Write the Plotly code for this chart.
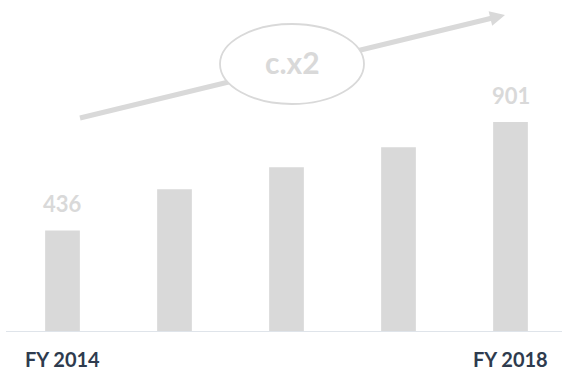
import numpy as np
import plotly.graph_objects as go

# Revenue by fiscal year
years = ["FY 2014", "FY 2015", "FY 2016", "FY 2017", "FY 2018"]
values = [436, 613, 707, 793, 901]
shown_labels = {0: "436", 4: "901"}
axis_labels = {0: "FY 2014", 4: "FY 2018"}
growth_text = "c.x2"

W, H = 562, 372
BAR = "#d9d9d9"
DARK = "#2e3b4e"
FONT = "Lato"

def px(x):
    return x / W

def py(y):
    return 1 - y / H

x_idx = list(range(len(years)))

fig = go.Figure()
fig.add_trace(go.Bar(
    x=x_idx, y=values, marker_color=BAR, marker_line_width=0,
    width=0.31, hoverinfo="skip",
))

annotations = []
for i, txt in shown_labels.items():
    annotations.append(dict(
        x=i, y=values[i], xref="x", yref="y", text=f"<b>{txt}</b>",
        showarrow=False, xanchor="center", yanchor="bottom", yshift=11,
        font=dict(family=FONT, size=22, color=BAR),
    ))
for i, txt in axis_labels.items():
    annotations.append(dict(
        x=i, y=0, xref="x", yref="y", text=f"<b>{txt}</b>",
        showarrow=False, xanchor="center", yanchor="middle", yshift=-27,
        borderpad=0,
        font=dict(family=FONT, size=20, color=DARK),
    ))

# Growth arrow: shaft, ellipse badge, and triangular head
tail = np.array([80.0, 118.0])
tip = np.array([505.0, 15.0])
d = (tip - tail) / np.linalg.norm(tip - tail)
perp = np.array([-d[1], d[0]])
head_len, head_half = 15.0, 7.5
base = tip - head_len * d
c1 = base + head_half * perp
c2 = base - head_half * perp
shaft_end = base + 1.0 * d

ecx, ecy, erx, ery = 292.0, 64.0, 72.0, 40.0

shapes = [
    dict(type="line", xref="paper", yref="y", x0=px(6), x1=1, y0=0, y1=0,
         line=dict(color="#dfe4ea", width=2), layer="above"),
    dict(type="line", xref="paper", yref="paper",
         x0=px(tail[0]), y0=py(tail[1]), x1=px(shaft_end[0]), y1=py(shaft_end[1]),
         line=dict(color=BAR, width=5)),
    dict(type="path", xref="paper", yref="paper",
         path=(f"M {px(tip[0])} {py(tip[1])} L {px(c1[0])} {py(c1[1])} "
               f"L {px(c2[0])} {py(c2[1])} Z"),
         fillcolor=BAR, line=dict(width=0)),
    dict(type="circle", xref="paper", yref="paper",
         x0=px(ecx - erx), x1=px(ecx + erx), y0=py(ecy + ery), y1=py(ecy - ery),
         fillcolor="white", line=dict(color=BAR, width=1.8)),
]

annotations.append(dict(
    x=px(ecx), y=py(ecy - 2), xref="paper", yref="paper",
    text=f"<b>{growth_text}</b>", showarrow=False,
    xanchor="center", yanchor="middle",
    font=dict(family=FONT, size=30, color=BAR),
))

scale = 901 / 210.0
fig.update_layout(
    width=W, height=H,
    margin=dict(l=0, r=0, t=0, b=0),
    paper_bgcolor="white", plot_bgcolor="white",
    showlegend=False,
    xaxis=dict(range=[-62.5 / 112, (W - 62.5) / 112], visible=False, fixedrange=True),
    yaxis=dict(domain=[py(332), 1], range=[0, 332 * scale], visible=False, fixedrange=True),
    shapes=shapes, annotations=annotations,
)

fig.write_html("out.html", config={"displayModeBar": False})
